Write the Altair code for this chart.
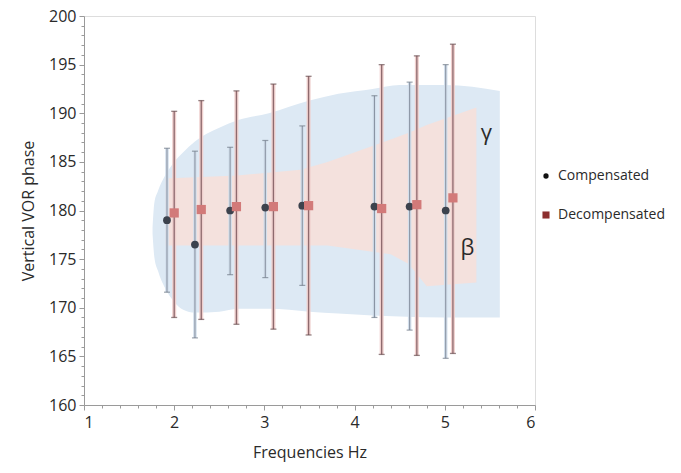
import altair as alt
import pandas as pd

# ---- data ----
freq_comp = [1.92, 2.23, 2.62, 3.01, 3.42, 4.22, 4.61, 5.01]
phase_comp = [179.0, 176.5, 180.0, 180.3, 180.5, 180.4, 180.4, 180.0]
comp_hi = [186.4, 186.1, 186.5, 187.2, 188.7, 191.8, 193.2, 195.0]
comp_lo = [171.6, 166.9, 173.4, 173.1, 172.3, 169.0, 167.7, 164.8]

freq_dec = [2.00, 2.30, 2.69, 3.10, 3.49, 4.30, 4.69, 5.09]
phase_dec = [179.75, 180.1, 180.4, 180.4, 180.5, 180.2, 180.6, 181.3]
dec_hi = [190.2, 191.3, 192.3, 193.0, 193.8, 195.0, 195.9, 197.1]
dec_lo = [169.0, 168.8, 168.3, 167.8, 167.2, 165.2, 165.1, 165.3]

# gamma (blue) region: x, lower, upper
gamma_x = [1.76, 1.78, 1.82, 1.90, 2.00, 2.10, 2.23, 2.50, 2.71, 3.05, 3.50, 3.82, 4.20, 4.50, 5.00, 5.61]
gamma_lo = [177.6, 175.2, 173.8, 172.0, 170.6, 169.8, 169.5, 169.6, 169.9, 169.9, 169.6, 169.4, 169.2, 169.1, 169.0, 169.0]
gamma_hi = [178.2, 180.8, 182.0, 183.6, 185.0, 186.0, 187.1, 188.5, 189.3, 190.0, 191.3, 192.0, 192.5, 192.9, 192.9, 192.3]

# beta (orange) region: x, lower, upper
beta_x = [1.90, 2.70, 3.40, 3.70, 4.40, 4.60, 4.80, 5.35]
beta_lo = [176.4, 176.4, 176.4, 176.4, 175.5, 174.5, 172.2, 172.6]
beta_hi = [183.3, 183.6, 184.2, 185.0, 187.3, 188.0, 188.8, 190.6]

series_names = ["Compensated", "Decompensated"]
annot_text = ["γ", "β"]
annot_x = [5.46, 5.25]
annot_y = [188.0, 176.1]

x_ticks = [round(1 + 0.2 * i, 1) for i in range(26)]
y_ticks = list(range(160, 201))

FONT = "Open Sans"
AXIS_COLOR = "#9a9a9a"
TEXT_COLOR = "#2a2a2a"

comp = pd.DataFrame({"f": freq_comp, "p": phase_comp, "hi": comp_hi, "lo": comp_lo,
                     "series": series_names[0]})
dec = pd.DataFrame({"f": freq_dec, "p": phase_dec, "hi": dec_hi, "lo": dec_lo,
                    "series": series_names[1]})
both = pd.concat([comp, dec], ignore_index=True)
gamma = pd.DataFrame({"f": gamma_x, "lo": gamma_lo, "hi": gamma_hi})
beta = pd.DataFrame({"f": beta_x, "lo": beta_lo, "hi": beta_hi})
annot = pd.DataFrame({"f": annot_x, "p": annot_y, "t": annot_text})

is_int = "abs(datum.value - round(datum.value)) < 0.01"
is_five = "abs(datum.value / 5 - round(datum.value / 5)) < 0.01"

x_axis = alt.Axis(values=x_ticks, title="Frequencies Hz", grid=False,
                  labelExpr=f"{is_int} ? format(datum.value, 'd') : ''",
                  tickSize={"condition": {"test": is_int, "value": 5}, "value": 3},
                  labelOverlap=False, labelPadding=4, titlePadding=14,
                  labelFontSize=16, titleFontSize=16, labelFont=FONT, titleFont=FONT,
                  labelColor=TEXT_COLOR, titleColor=TEXT_COLOR, titleFontWeight="normal",
                  domainColor=AXIS_COLOR, tickColor=AXIS_COLOR)
y_axis = alt.Axis(values=y_ticks, title="Vertical VOR phase", grid=False,
                  labelExpr=f"{is_five} ? format(datum.value, 'd') : ''",
                  tickSize={"condition": {"test": is_five, "value": 5}, "value": 3},
                  labelOverlap=False, labelPadding=3, titlePadding=12,
                  labelFontSize=16, titleFontSize=16, labelFont=FONT, titleFont=FONT,
                  labelColor=TEXT_COLOR, titleColor=TEXT_COLOR, titleFontWeight="normal",
                  domainColor=AXIS_COLOR, tickColor=AXIS_COLOR)
x_scale = alt.Scale(domain=[1, 6], nice=False, zero=False)
y_scale = alt.Scale(domain=[160, 200], nice=False, zero=False)


def X(field="f"):
    return alt.X(f"{field}:Q", scale=x_scale, axis=x_axis)


def Y(field):
    return alt.Y(f"{field}:Q", scale=y_scale, axis=y_axis)


blue = alt.Chart(gamma).mark_area(color="#dde9f4", interpolate="monotone").encode(
    x=X(), y=Y("lo"), y2="hi:Q")
orange = alt.Chart(beta).mark_area(color="#f6e0da", opacity=0.9, interpolate="linear").encode(
    x=X(), y=Y("lo"), y2="hi:Q")

comp_glow = alt.Chart(comp).mark_rule(color="#d3dfec", strokeWidth=3.5).encode(
    x=X(), y=Y("lo"), y2="hi:Q")
comp_rule = alt.Chart(comp).mark_rule(color="#8a94a3", strokeWidth=1.1).encode(
    x=X(), y=Y("lo"), y2="hi:Q")
comp_cap_hi = alt.Chart(comp).mark_tick(color="#737d8a", orient="horizontal", size=6,
                                        thickness=1.2).encode(x=X(), y=Y("hi"))
comp_cap_lo = alt.Chart(comp).mark_tick(color="#737d8a", orient="horizontal", size=6,
                                        thickness=1.2).encode(x=X(), y=Y("lo"))

dec_glow = alt.Chart(dec).mark_rule(color="#efcfcd", strokeWidth=4).encode(
    x=X(), y=Y("lo"), y2="hi:Q")
dec_rule = alt.Chart(dec).mark_rule(color="#8e6a6e", strokeWidth=1.3).encode(
    x=X(), y=Y("lo"), y2="hi:Q")
dec_cap_hi = alt.Chart(dec).mark_tick(color="#6a5052", orient="horizontal", size=6,
                                      thickness=1.3).encode(x=X(), y=Y("hi"))
dec_cap_lo = alt.Chart(dec).mark_tick(color="#6a5052", orient="horizontal", size=6,
                                      thickness=1.3).encode(x=X(), y=Y("lo"))

legend_layer = alt.Chart(both).mark_point(filled=True, opacity=1).encode(
    x=X(), y=Y("p"),
    fill=alt.Fill("series:N",
                  scale=alt.Scale(domain=series_names, range=["#111111", "#8c2f2f"]),
                  legend=alt.Legend(title=None, orient="none", legendX=455, legendY=153,
                                    rowPadding=25, labelFontSize=14, labelFont=FONT,
                                    labelColor=TEXT_COLOR, labelOffset=5, padding=0)),
    shape=alt.Shape("series:N",
                    scale=alt.Scale(domain=series_names, range=["circle", "square"])),
    size=alt.Size("series:N", scale=alt.Scale(domain=series_names, range=[28, 50])),
)

comp_pts = alt.Chart(comp).mark_point(filled=True, shape="circle", size=60,
                                      color="#3c424d", opacity=1).encode(x=X(), y=Y("p"))
dec_pts = alt.Chart(dec).mark_point(filled=True, shape="square", size=85,
                                    color="#d27a79", opacity=1).encode(x=X(), y=Y("p"))

labels = alt.Chart(annot).mark_text(font=FONT, fontSize=22, color="#2a2a2a").encode(
    x=X(), y=Y("p"), text="t:N")

chart = alt.layer(
    blue, orange, comp_glow, dec_glow, comp_rule, comp_cap_hi, comp_cap_lo,
    dec_rule, dec_cap_hi, dec_cap_lo, legend_layer, comp_pts, dec_pts, labels
).properties(
    width=451, height=389,
    autosize=alt.AutoSizeParams(type="none"),
    padding={"left": 84, "top": 16, "right": 146, "bottom": 68},
).configure_view(stroke=None).configure(background="white")

chart.save("out.html", embed_options={"renderer": "svg", "actions": False})
